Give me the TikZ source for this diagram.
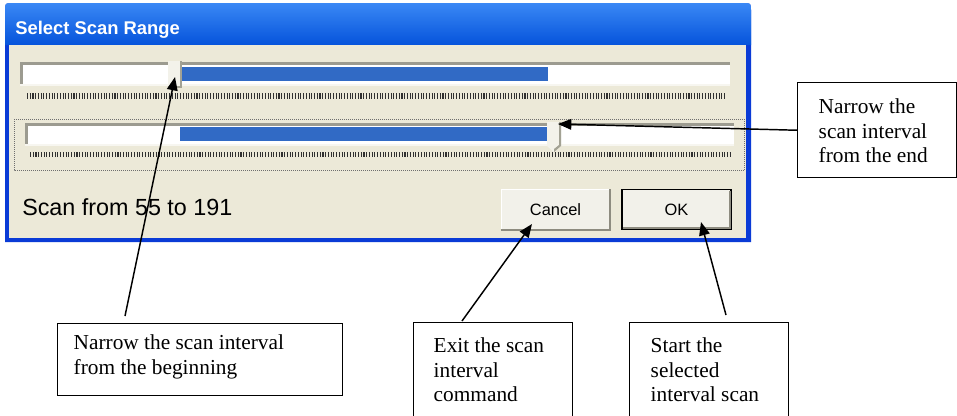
\documentclass[tikz,border=0pt]{standalone}
\usepackage{fontspec}
\setmainfont{Liberation Serif}
\newfontfamily\uisans{Liberation Sans}
\usetikzlibrary{arrows.meta,calc}
\definecolor{xpframe}{HTML}{0A3BD6}
\definecolor{xptop}{HTML}{3A88F5}
\definecolor{xpmid}{HTML}{0B5FE8}
\definecolor{xpbot}{HTML}{0553DB}
\definecolor{xpbeige}{HTML}{ECE9D8}
\definecolor{xpfill}{HTML}{316AC5}
\definecolor{trackdark}{HTML}{9C9B90}
\definecolor{tracklight}{HTML}{F7F6F0}
\definecolor{thumbbody}{HTML}{F3F2EA}
\definecolor{thumbshade}{HTML}{A3A294}
\definecolor{tickcol}{HTML}{303030}
\definecolor{btnfill}{HTML}{F2F1EA}
\definecolor{btnshade}{HTML}{8E8C80}
\tikzset{
  callout/.style={draw=black, line width=1.1pt, fill=white, inner ysep=0pt,
    anchor=north west, font=\fontsize{16}{18.4}\selectfont},
  arr/.style={line width=1.1pt, -{Triangle[length=10pt,width=8pt]}},
  ticks/.style={tickcol, dash pattern=on 0.8pt off 1.25pt},
  btn/.style={fill=btnfill, minimum width=81.75pt, minimum height=30pt,
    inner sep=0pt, font=\uisans\fontsize{12.3}{14}\selectfont},
  uitext/.style={inner sep=0pt, anchor=base west}
}
\begin{document}
\begin{tikzpicture}[x=0.75pt,y=-0.75pt]
\useasboundingbox (0,0) rectangle (957,415);
\clip (0,0) rectangle (957,415);
\fill[white] (0,0) rectangle (957,415);

% window frame
\fill[xpframe] (5,242) -- (5,11) .. controls (5,3) .. (13,3) -- (743,3)
  .. controls (751,3) .. (751,11) -- (751,242) -- cycle;
\shade[top color=xptop, middle color=xpmid, bottom color=xpbot]
  (5,45) -- (5,11) .. controls (5,3) .. (13,3) -- (743,3)
  .. controls (751,3) .. (751,11) -- (751,45) -- cycle;
\fill[xpbeige] (9,45) rectangle (746,237.5);
\node[uitext, text=white, font=\uisans\bfseries\fontsize{13.8}{16}\selectfont] (title) at (15,34) {Select Scan Range};

% slider 1
\fill[white] (20,62) rectangle (730,85);
\fill[trackdark] (20,62) rectangle (730,64.5);
\fill[trackdark] (20,62) rectangle (22.5,85);
\fill[tracklight] (20,84) rectangle (730,86);
\fill[xpfill] (181,67) rectangle (548,80.5);
\fill[thumbbody] (168,61) rectangle (182,88);
\fill[thumbshade] (180,61) rectangle (182,88);
\fill[thumbshade] (168,86) rectangle (182,88);
\coordinate (thumbA) at (175,77);
\draw[ticks, line width=4.5pt] (27,96) -- (726,96);

% slider 2 (focused)
\draw[tickcol!70, line width=0.75pt, dash pattern=on 0.75pt off 0.75pt] (14,119) rectangle (744.5,170);
\fill[white] (25,123) rectangle (734,145);
\fill[trackdark] (25,123) rectangle (734,125.5);
\fill[trackdark] (25,123) rectangle (27.5,145);
\fill[tracklight] (25,144) rectangle (734,146);
\fill[xpfill] (180,127) rectangle (547,141);
\fill[thumbbody] (547,122) -- (561,122) -- (561,146) -- (554,152) -- (547,146) -- cycle;
\fill[thumbshade] (559,122) -- (561,122) -- (561,146) -- (554,152) -- (554,149) -- (559,145) -- cycle;
\coordinate (thumbB) at (558,124);
\draw[ticks, line width=3.75pt] (30,154.5) -- (730,154.5);

% status text
\node[uitext, font=\uisans\fontsize{17.5}{20}\selectfont] (status) at (22,215) {Scan from 55 to 191};

% buttons
\node[btn, draw=white] (cancel) at (555.5,209.5) {Cancel};
\draw[btnshade, line width=1.3pt] (cancel.south west) -- (cancel.south east) -- (cancel.north east);
\node[btn, draw=black, line width=1.1pt] (ok) at (676.5,209.5) {OK};
\draw[btnshade, line width=1.3pt] ([shift={(1.5pt,1.5pt)}]ok.south west) -- ([shift={(-1.5pt,1.5pt)}]ok.south east) -- ([shift={(-1.5pt,-1.5pt)}]ok.north east);
\coordinate (cancelpt) at (532,224);
\coordinate (okpt) at (701,222);

% callouts
\node[callout, inner xsep=15.75pt] (rbox) at (797,82)
  {\parbox[b][71.25pt][t]{87.75pt}{\raggedright\rule{0pt}{23.25pt}Narrow the\\scan interval\\from the end}};
\node[callout, inner xsep=12pt] (lbox) at (57,323)
  {\parbox[b][54pt][t]{189.75pt}{\raggedright\rule{0pt}{19.5pt}Narrow the scan interval\\from the beginning}};
\node[callout, inner xsep=15pt] (mbox) at (413,322)
  {\parbox[b][75pt][t]{89.25pt}{\raggedright\rule{0pt}{22.5pt}Exit the scan\\interval\\command}};
\node[callout, inner xsep=15.75pt] (obox) at (629,322)
  {\parbox[b][75pt][t]{87.75pt}{\raggedright\rule{0pt}{22.5pt}Start the\\selected\\interval scan}};

\coordinate (lstart) at ([xshift=51pt,yshift=5.25pt]lbox.north west);
\coordinate (mstart) at ([xshift=36.75pt,yshift=0.75pt]mbox.north west);
\coordinate (ostart) at ([xshift=72.75pt,yshift=5.25pt]obox.north west);

\draw[arr] (rbox.west) -- (thumbB);
\draw[arr] (lstart) -- (thumbA);
\draw[arr] (mstart) -- (cancelpt);
\draw[arr] (ostart) -- (okpt);
\end{tikzpicture}
\end{document}
